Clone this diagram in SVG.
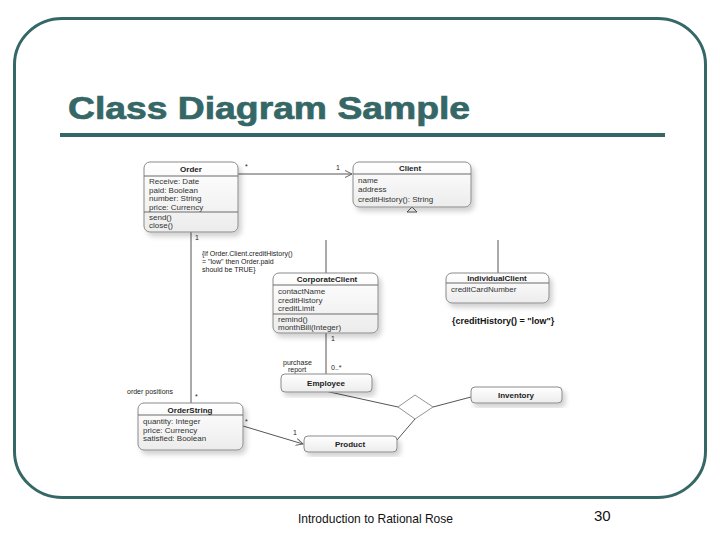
<svg xmlns="http://www.w3.org/2000/svg" width="720" height="540" viewBox="0 0 720 540">
<style>
  .frame{fill:none;stroke:#356767;stroke-width:3}
  .title{font-family:"Liberation Sans",Arial,sans-serif;font-weight:bold;font-size:31px;fill:#356767;stroke:#356767;stroke-width:0.7}
  .foot{font-family:"Liberation Sans",Arial,sans-serif;fill:#111}
  .box{fill:url(#g);stroke:#8a8a8a;stroke-width:1;filter:url(#sh)}
  .div{stroke:#6a6a6a;stroke-width:1}
  .nm{font-family:"Liberation Sans",Arial,sans-serif;font-weight:bold;font-size:8px;fill:#222;text-anchor:middle}
  .at{font-family:"Liberation Sans",Arial,sans-serif;font-size:8px;fill:#333}
  .lb{font-family:"Liberation Sans",Arial,sans-serif;font-size:7px;fill:#222}
  .ln{fill:none;stroke:#555;stroke-width:1}
</style>
<defs>
  <linearGradient id="g" x1="0" y1="0" x2="0" y2="1">
    <stop offset="0" stop-color="#ffffff"/>
    <stop offset="1" stop-color="#ececec"/>
  </linearGradient>
  <filter id="sh" x="-10%" y="-10%" width="130%" height="140%">
    <feDropShadow dx="3" dy="4" stdDeviation="2.5" flood-color="#000" flood-opacity="0.18"/>
  </filter>
  <marker id="open" markerWidth="8" markerHeight="8" refX="7" refY="4" orient="auto" markerUnits="userSpaceOnUse">
    <path d="M0,0.5 L7,4 L0,7.5" fill="none" stroke="#666" stroke-width="1"/>
  </marker>
</defs>

<rect class="frame" x="14.5" y="18.5" width="691" height="479" rx="48" ry="46"/>
<text class="title" x="68" y="119" textLength="402" lengthAdjust="spacingAndGlyphs">Class Diagram Sample</text>
<rect x="60" y="133" width="605" height="4" fill="#356767"/>

<g id="connectors">
  <line class="ln" x1="238" y1="174" x2="352" y2="174" marker-end="url(#open)"/>
  <text class="lb" x="245" y="169">*</text>
  <text class="lb" x="336" y="170">1</text>
  <path d="M407,212 L412,207 L417,212 Z" fill="#fff" stroke="#555" stroke-width="1"/>
  <line class="ln" x1="326" y1="240" x2="326" y2="273"/>
  <line class="ln" x1="498" y1="240" x2="498" y2="273"/>
  <line class="ln" x1="191" y1="232" x2="191" y2="403"/>
  <text class="lb" x="195" y="240">1</text>
  <text class="lb" x="127" y="394">order positions</text>
  <text class="lb" x="195" y="399">*</text>
  <line class="ln" x1="326" y1="333" x2="326" y2="374"/>
  <text class="lb" x="331" y="341">1</text>
  <text class="lb" x="283" y="365">purchase</text>
  <text class="lb" x="288" y="372">report</text>
  <text class="lb" x="331" y="370">0..*</text>
  <path d="M398,407 L415,395 L433,407 L415,419 Z" fill="#fff" stroke="#777" stroke-width="0.8"/>
  <line class="ln" x1="325" y1="391" x2="398" y2="407"/>
  <line class="ln" x1="433" y1="407" x2="471" y2="397"/>
  <line class="ln" x1="415" y1="419" x2="397" y2="440"/>
  <line class="ln" x1="243" y1="426" x2="303" y2="444" marker-end="url(#open)"/>
  <text class="lb" x="245" y="424">*</text>
  <text class="lb" x="293" y="435">1</text>
  <text class="lb" x="202" y="256">{if Order.Client.creditHistory()</text>
  <text class="lb" x="202" y="264">= "low" then Order.paid</text>
  <text class="lb" x="202" y="272">should be TRUE}</text>
  <text x="452" y="324" font-family="'Liberation Sans',Arial,sans-serif" font-size="9px" font-weight="bold" fill="#111">{creditHistory() = "low"}</text>
</g>

<g id="order">
  <rect class="box" x="144" y="162" width="94" height="70" rx="6"/>
  <line class="div" x1="144" y1="176" x2="238" y2="176"/>
  <line class="div" x1="144" y1="212" x2="238" y2="212"/>
  <text class="nm" x="191" y="172">Order</text>
  <text class="at" x="149" y="184">Receive: Date</text>
  <text class="at" x="149" y="192.5">paid: Boolean</text>
  <text class="at" x="149" y="201">number: String</text>
  <text class="at" x="149" y="209.5">price: Currency</text>
  <text class="at" x="149" y="219.5">send()</text>
  <text class="at" x="149" y="228">close()</text>
</g>

<g id="client">
  <rect class="box" x="353" y="162" width="118" height="45" rx="6"/>
  <line class="div" x1="353" y1="174" x2="471" y2="174"/>
  <text class="nm" x="410" y="171">Client</text>
  <text class="at" x="358" y="183">name</text>
  <text class="at" x="358" y="192">address</text>
  <text class="at" x="358" y="202">creditHistory(): String</text>
</g>

<g id="corporateClient">
  <rect class="box" x="273" y="273" width="105" height="60" rx="6"/>
  <line class="div" x1="273" y1="285" x2="378" y2="285"/>
  <line class="div" x1="273" y1="314" x2="378" y2="314"/>
  <text class="nm" x="327" y="282">CorporateClient</text>
  <text class="at" x="278" y="294">contactName</text>
  <text class="at" x="278" y="302.5">creditHistory</text>
  <text class="at" x="278" y="311">creditLimit</text>
  <text class="at" x="278" y="321.5">remind()</text>
  <text class="at" x="278" y="330">monthBill(Integer)</text>
</g>

<g id="individualClient">
  <rect class="box" x="446" y="273" width="103" height="30" rx="6"/>
  <line class="div" x1="446" y1="283" x2="549" y2="283"/>
  <text class="nm" x="497" y="281">IndividualClient</text>
  <text class="at" x="451" y="292">creditCardNumber</text>
</g>

<g id="employee">
  <rect class="box" x="281" y="374" width="91" height="18" rx="4"/>
  <text class="nm" x="326" y="386">Employee</text>
</g>

<g id="inventory">
  <rect class="box" x="471" y="387" width="91" height="16" rx="4"/>
  <text class="nm" x="516" y="398">Inventory</text>
</g>

<g id="product">
  <rect class="box" x="304" y="436" width="93" height="16" rx="4"/>
  <text class="nm" x="350" y="447">Product</text>
</g>

<g id="orderString">
  <rect class="box" x="138" y="403" width="105" height="47" rx="6"/>
  <line class="div" x1="138" y1="415" x2="243" y2="415"/>
  <text class="nm" x="190" y="413">OrderString</text>
  <text class="at" x="143" y="424">quantity: Integer</text>
  <text class="at" x="143" y="432.5">price: Currency</text>
  <text class="at" x="143" y="441">satisfied: Boolean</text>
</g>

<text class="foot" x="298" y="523" font-size="13px" textLength="155" lengthAdjust="spacingAndGlyphs">Introduction to Rational Rose</text>
<text class="foot" x="594" y="521" font-size="15px">30</text>
</svg>
